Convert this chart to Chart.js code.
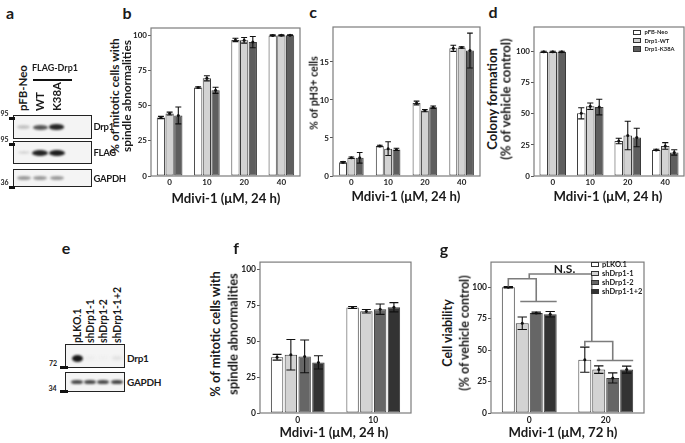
<!DOCTYPE html>
<html>
<head>
<meta charset="utf-8">
<script src="https://cdn.jsdelivr.net/npm/chart.js@4.4.1/dist/chart.umd.min.js"></script>
<style>
  html, body { margin: 0; padding: 0; background: #fff; }
  #fig { position: relative; width: 685px; height: 443px; overflow: hidden;
         font-family: Lato, "Open Sans", sans-serif; font-weight: bold; color: #1a1a1a; }
  .t { position: absolute; white-space: nowrap; line-height: 1; }
  .lbl { letter-spacing: -0.3px; }
  .blot { position: absolute; border: 1.5px solid #222; background: #f4f4f4; box-sizing: border-box; }
  .band { position: absolute; border-radius: 50%; }
  .mk { position: absolute; background: #111; height: 3px; }
</style>
</head>
<body>
<div id="fig"></div>
<script>
// ---- data ----
const doses24 = ['0', '10', '20', '40'];
const stableLines = ['pFB-Neo', 'Drp1-WT', 'Drp1-K38A'];
const stableColors = ['#ffffff', '#d3d3d3', '#5e5e5e'];

// b: % mitotic cells with spindle abnormalities
const spindleNeo = [41.5, 62.8, 96.5, 99.7];
const spindleWT = [44.3, 69.3, 96.3, 99.8];
const spindleK38A = [43.0, 60.8, 95.0, 99.8];
const spindleNeoErr = [0.8, 0.5, 1.2, 0.4];
const spindleWTErr = [1.0, 1.8, 2.0, 0.4];
const spindleK38AErr = [6.0, 2.2, 4.0, 0.3];

// c: % pH3+ cells
const ph3Neo = [1.8, 3.95, 9.6, 16.8];
const ph3WT = [2.4, 3.6, 8.6, 16.9];
const ph3K38A = [2.4, 3.5, 9.05, 16.5];
const ph3NeoErr = [0.1, 0.1, 0.25, 0.4];
const ph3WTErr = [0.1, 0.9, 0.15, 0.1];
const ph3K38AErr = [0.7, 0.15, 0.15, 2.3];

// d: colony formation
const colonyNeo = [100, 50.5, 28.2, 21];
const colonyWT = [100, 56.2, 32.6, 24.2];
const colonyK38A = [100, 55.5, 31, 19];
const colonyNeoErr = [0.5, 4.5, 2.2, 0.5];
const colonyWTErr = [0.5, 2.6, 11.5, 2.7];
const colonyK38AErr = [0.5, 6.3, 7.5, 2.2];

// f: knockdown, spindle abnormalities
const doses24sh = ['0', '10'];
const shLines = ['pLKO.1', 'shDrp1-1', 'shDrp1-2', 'shDrp1-1+2'];
const shColors = ['#ffffff', '#d3d3d3', '#666666', '#333333'];
const shSpindlePLKO = [38.8, 73.4];
const shSpindle1 = [40.5, 70.8];
const shSpindle2 = [39.4, 72.2];
const shSpindle12 = [35.2, 73.6];
const shSpindlePLKOErr = [2.0, 0.7];
const shSpindle1Err = [10.6, 1.2];
const shSpindle2Err = [11.4, 3.6];
const shSpindle12Err = [4.6, 3.2];

// g: cell viability, 72 h
const doses72 = ['0', '20'];
const viabPLKO = [100, 42.4];
const viab1 = [71.4, 34.5];
const viab2 = [79.6, 27.9];
const viab12 = [78.5, 34.5];
const viabPLKOErr = [0.5, 10];
const viab1Err = [5, 3];
const viab2Err = [0.6, 4];
const viab12Err = [2.2, 2.8];

const pctTicks = [0, 25, 50, 75, 100];
const ph3Ticks = [0, 5, 10, 15];

// ---- helpers ----
const fig = document.getElementById('fig');
const FONT = 'Lato, "Open Sans", sans-serif';
Chart.defaults.font.family = FONT;
const meter = document.createElement('canvas').getContext('2d');

// font size that makes str about len px long
function fit(str, len) {
  meter.font = 'bold 20px ' + FONT;
  return 20 * len / meter.measureText(str).width;
}

function text(str, x, y, size, mode, cls) {
  const el = document.createElement('div');
  el.className = 't' + (cls ? ' ' + cls : '');
  el.textContent = str;
  el.style.left = x + 'px';
  el.style.top = y + 'px';
  el.style.fontSize = size + 'px';
  if (mode === 'rot') {
    el.style.transform = 'translate(-50%,-50%) rotate(-90deg)';
  } else if (mode === 'rotStart') {
    el.style.transformOrigin = '0 0';
    el.style.transform = 'rotate(-90deg) translate(0,-50%)';
  } else if (mode === 'left') {
    el.style.transform = 'translate(0,-50%)';
  } else {
    el.style.transform = 'translate(-50%,-50%)';
  }
  fig.appendChild(el);
  return el;
}

function div(cls, x, y, w, h, css) {
  const el = document.createElement('div');
  el.className = cls;
  el.style.left = x + 'px';
  el.style.top = y + 'px';
  el.style.width = w + 'px';
  el.style.height = h + 'px';
  if (css) el.style.cssText += css;
  fig.appendChild(el);
  return el;
}

function band(cx, cy, w, h, color, blur) {
  div('band', cx - w / 2, cy - h / 2, w, h, 'background:' + color + ';filter:blur(' + (blur || 1) + 'px);');
}

function legend(names, colors, x, y0, step, bw, bh, size) {
  names.forEach((n, i) => {
    const y = y0 + i * step;
    div('', x, y - bh / 2, bw, bh, 'position:absolute;box-sizing:border-box;border:1px solid #333;background:' + colors[i] + ';');
    text(n, x + bw + 3.5, y, size, 'left');
  });
}

// ---- chart plugins ----
const frame = {
  id: 'frame',
  afterDraw(chart) {
    const a = chart.chartArea, ctx = chart.ctx;
    ctx.save();
    ctx.strokeStyle = '#7c7c7c';
    ctx.lineWidth = 1.2;
    ctx.strokeRect(a.left, a.top, a.right - a.left, a.bottom - a.top);
    ctx.restore();
  }
};

const errorBars = {
  id: 'errorBars',
  afterDatasetsDraw(chart) {
    const ctx = chart.ctx, y = chart.scales.y;
    ctx.save();
    ctx.strokeStyle = '#111';
    ctx.fillStyle = '#111';
    ctx.lineWidth = 1.1;
    chart.data.datasets.forEach((ds, i) => {
      chart.getDatasetMeta(i).data.forEach((bar, j) => {
        const v = ds.data[j], e = ds.errors[j];
        const top = y.getPixelForValue(v + e), bot = y.getPixelForValue(v - e);
        const cap = Math.min(bar.width * 0.36, 5);
        ctx.beginPath();
        ctx.moveTo(bar.x, top); ctx.lineTo(bar.x, bot);
        ctx.moveTo(bar.x - cap, top); ctx.lineTo(bar.x + cap, top);
        ctx.moveTo(bar.x - cap, bot); ctx.lineTo(bar.x + cap, bot);
        ctx.stroke();
        ctx.beginPath();
        ctx.arc(bar.x, bar.y, 1.5, 0, Math.PI * 2);
        ctx.fill();
      });
    });
    ctx.restore();
  }
};

// N.S. brackets of panel g, hung off the bars themselves
const nsBrackets = {
  id: 'nsBrackets',
  afterDatasetsDraw(chart) {
    const ctx = chart.ctx, y = chart.scales.y;
    const px = v => y.getPixelForValue(v);
    const bars = chart.data.datasets.map((d, i) => chart.getDatasetMeta(i).data);
    const ref = chart.data.datasets[0];
    const levels = [[106.7, 88.7], [56.9, 41.8]];
    ctx.save();
    ctx.strokeStyle = '#7c7c7c';
    ctx.lineWidth = 1.6;
    ctx.beginPath();
    levels.forEach((lv, j) => {
      const w = bars[0][j], l = bars[1][j], m = bars[2][j], d = bars[3][j];
      const hb = px(lv[0]), hs = px(lv[1]);
      ctx.moveTo(w.x, px(ref.data[j] + ref.errors[j])); ctx.lineTo(w.x, hb);
      ctx.lineTo(m.x, hb); ctx.lineTo(m.x, hs);
      ctx.moveTo(l.x - 2, hs); ctx.lineTo(d.x + d.width / 2, hs);
    });
    const xl = (bars[1][0].x + bars[2][0].x) / 2, xr = (bars[0][1].x + bars[1][1].x) / 2;
    const ht = px(110.5);
    ctx.moveTo(xl, px(levels[0][0])); ctx.lineTo(xl, ht);
    ctx.lineTo(xr, ht); ctx.lineTo(xr, px(levels[1][0]));
    ctx.stroke();
    ctx.fillStyle = '#1a1a1a';
    ctx.font = 'bold 12px ' + FONT;
    ctx.textAlign = 'center';
    ctx.textBaseline = 'alphabetic';
    ctx.fillText('N.S.', (xl + xr) / 2 + 4, ht - 1);
    ctx.restore();
  }
};

function barChart(o) {
  const Yw = 26, padTop = 6, padRight = 2, Xh = 16;
  const wrap = document.createElement('div');
  wrap.style.cssText = 'position:absolute;left:' + (o.L - Yw) + 'px;top:' + (o.T - padTop) + 'px;width:' +
    (o.R - o.L + Yw + padRight) + 'px;height:' + (o.B - o.T + padTop + Xh) + 'px;';
  const cv = document.createElement('canvas');
  wrap.appendChild(cv);
  fig.appendChild(wrap);
  const tickFont = { size: o.tick, weight: 'bold' };
  return new Chart(cv, {
    type: 'bar',
    data: {
      labels: o.labels,
      datasets: o.values.map((v, i) => ({
        label: o.names[i],
        data: v,
        errors: o.errors[i],
        backgroundColor: o.colors[i],
        borderColor: '#3a3a3a',
        borderWidth: 1,
        borderSkipped: false,
        barPercentage: o.barPct,
        categoryPercentage: o.catPct
      }))
    },
    options: {
      responsive: true,
      maintainAspectRatio: false,
      animation: false,
      layout: { padding: { top: padTop, right: padRight, left: 0, bottom: 0 } },
      plugins: { legend: { display: false }, tooltip: { enabled: false } },
      scales: {
        x: {
          grid: { display: false, drawTicks: false },
          border: { display: false },
          ticks: { padding: 2, color: '#222', font: tickFont },
          afterFit: s => { s.height = Xh; }
        },
        y: {
          min: 0, max: o.max,
          grid: { drawOnChartArea: false, drawTicks: true, tickLength: 3, color: '#555' },
          border: { display: false },
          ticks: { padding: 1, color: '#222', font: tickFont },
          afterBuildTicks: s => { s.ticks = o.ticks.map(v => ({ value: v })); },
          afterFit: s => { s.width = Yw; }
        }
      }
    },
    plugins: [frame, errorBars].concat(o.extra || [])
  });
}

// ---- panel b ----
barChart({ L: 151, T: 28, R: 300, B: 176, max: 105, ticks: pctTicks, tick: 8,
  labels: doses24, names: stableLines, colors: stableColors,
  values: [spindleNeo, spindleWT, spindleK38A],
  errors: [spindleNeoErr, spindleWTErr, spindleK38AErr],
  barPct: 0.95, catPct: 0.7 });

// ---- panel c ----
barChart({ L: 333, T: 27, R: 480, B: 176, max: 19.6, ticks: ph3Ticks, tick: 8,
  labels: doses24, names: stableLines, colors: stableColors,
  values: [ph3Neo, ph3WT, ph3K38A],
  errors: [ph3NeoErr, ph3WTErr, ph3K38AErr],
  barPct: 0.95, catPct: 0.68 });

// ---- panel d ----
barChart({ L: 534, T: 27, R: 684, B: 176, max: 120, ticks: pctTicks, tick: 8,
  labels: doses24, names: stableLines, colors: stableColors,
  values: [colonyNeo, colonyWT, colonyK38A],
  errors: [colonyNeoErr, colonyWTErr, colonyK38AErr],
  barPct: 0.95, catPct: 0.72 });

// ---- panel f ----
barChart({ L: 260, T: 262, R: 411, B: 413, max: 105, ticks: pctTicks, tick: 8.5,
  labels: doses24sh, names: shLines, colors: shColors,
  values: [shSpindlePLKO, shSpindle1, shSpindle2, shSpindle12],
  errors: [shSpindlePLKOErr, shSpindle1Err, shSpindle2Err, shSpindle12Err],
  barPct: 0.9, catPct: 0.73 });

// ---- panel g ----
barChart({ L: 491, T: 262, R: 644, B: 413, max: 120, ticks: pctTicks, tick: 8.5,
  labels: doses72, names: shLines, colors: shColors,
  values: [viabPLKO, viab1, viab2, viab12],
  errors: [viabPLKOErr, viab1Err, viab2Err, viab12Err],
  barPct: 0.93, catPct: 0.73, extra: [nsBrackets] });

// ---- axis titles, panel letters, legends ----
text('a', 10, 13, 16);
text('b', 127, 13, 16);
text('c', 313, 12, 16);
text('d', 493, 12, 16);
text('e', 66, 248, 16);
text('f', 236, 248, 16);
text('g', 444, 249, 16);

const spindle1 = '% of mitotic cells with', spindle2 = 'spindle abnormalities';
const vehicle = '(% of vehicle control)';
const sB = fit(spindle1, 116), sF = fit(spindle1, 126), sD = fit(vehicle, 122), sG = fit(vehicle, 116);
text(spindle1, 115, 96, sB, 'rot');
text(spindle2, 127, 96, sB, 'rot');
text('% of pH3+ cells', 314, 93, fit('% of pH3+ cells', 74), 'rot');
text('Colony formation', 492.5, 99, sD, 'rot');
text(vehicle, 505.5, 99, sD, 'rot');
text(spindle1, 215, 334, sF, 'rot');
text(spindle2, 232.5, 334, sF, 'rot');
text('Cell viability', 448, 333, sG, 'rot');
text(vehicle, 465, 333, sG, 'rot');

const xt24 = 'Mdivi-1 (\u03bcM, 24 h)', xt72 = 'Mdivi-1 (\u03bcM, 72 h)';
const sX = fit(xt24, 109);
text(xt24, 226, 199, sX);
text(xt24, 406, 197, sX);
text(xt24, 608, 197, sX);
text(xt24, 334, 432.5, sX);
text(xt72, 563, 433, sX);

legend(stableLines, stableColors, 633, 32.3, 8.3, 8, 5.5, 5.8);
legend(shLines, shColors, 591, 264.5, 9, 7.5, 5.5, 7.5);

// ---- blot a ----
const sCol = fit('pFB-Neo', 46);
text('pFB-Neo', 23.3, 111, sCol, 'rotStart');
text('WT', 39.5, 111, sCol, 'rotStart');
text('K38A', 56.5, 111, sCol, 'rotStart');
text('FLAG-Drp1', 55, 68, fit('FLAG-Drp1', 46));
div('mk', 33, 78.5, 39, 2);
div('blot', 12.5, 115, 79, 24);
div('blot', 12.5, 141, 79, 23);
div('blot', 12.5, 169, 79, 18);
band(23.5, 127, 13, 4, '#c4c4c4', 1.2);
band(40, 127, 15, 5, '#555', 1);
band(56.5, 127, 15, 5.5, '#262626', 1);
band(23.5, 152.5, 12, 3, '#d6d6d6', 1.2);
band(40, 152.5, 16, 6, '#222', 1);
band(56.5, 152.5, 16, 6, '#1c1c1c', 1);
band(23.5, 178, 14, 4, '#9a9a9a', 1);
band(40, 178, 14, 4, '#9a9a9a', 1);
band(56.5, 178, 14, 4, '#9a9a9a', 1);
text('Drp1', 93.5, 127, 9.5, 'left', 'lbl');
text('FLAG', 93.5, 152.5, 9.5, 'left', 'lbl');
text('GAPDH', 93.5, 178.5, 9.5, 'left', 'lbl');
text('95', 4.5, 113, 7);
div('mk', 8.5, 116.5, 6.5, 3);
text('95', 4.5, 139, 7);
div('mk', 8.5, 142.5, 6.5, 3);
text('36', 4.5, 182, 7);
div('mk', 8.5, 185.5, 6.5, 3);

// ---- blot e ----
const sLane = fit('shDrp1-1+2', 56);
text('pLKO.1', 76.5, 343, sLane, 'rotStart');
text('shDrp1-1', 89.5, 343, sLane, 'rotStart');
text('shDrp1-2', 103, 343, sLane, 'rotStart');
text('shDrp1-1+2', 116.7, 343, sLane, 'rotStart');
div('blot', 65, 344, 60, 24);
div('blot', 65, 372, 60, 20);
band(77, 358, 11, 7, '#161616', 1);
band(90, 358, 10, 4, '#ececec', 1.5);
band(103.3, 358, 10, 4, '#efefef', 1.5);
band(116.7, 358, 10, 4, '#e0e0e0', 1.5);
band(76.7, 382, 12, 4.5, '#4a4a4a', 1);
band(90, 382, 12, 4.5, '#4a4a4a', 1);
band(103.3, 382, 12, 4.5, '#4a4a4a', 1);
band(116.7, 382, 12, 4.5, '#454545', 1);
text('Drp1', 127, 358, 10, 'left', 'lbl');
text('GAPDH', 127, 382, 10, 'left', 'lbl');
text('72', 53, 363, 7);
div('mk', 60, 366, 7.5, 3);
text('34', 52.5, 388, 7);
div('mk', 60, 389.5, 7.5, 3);
</script>
</body>
</html>
